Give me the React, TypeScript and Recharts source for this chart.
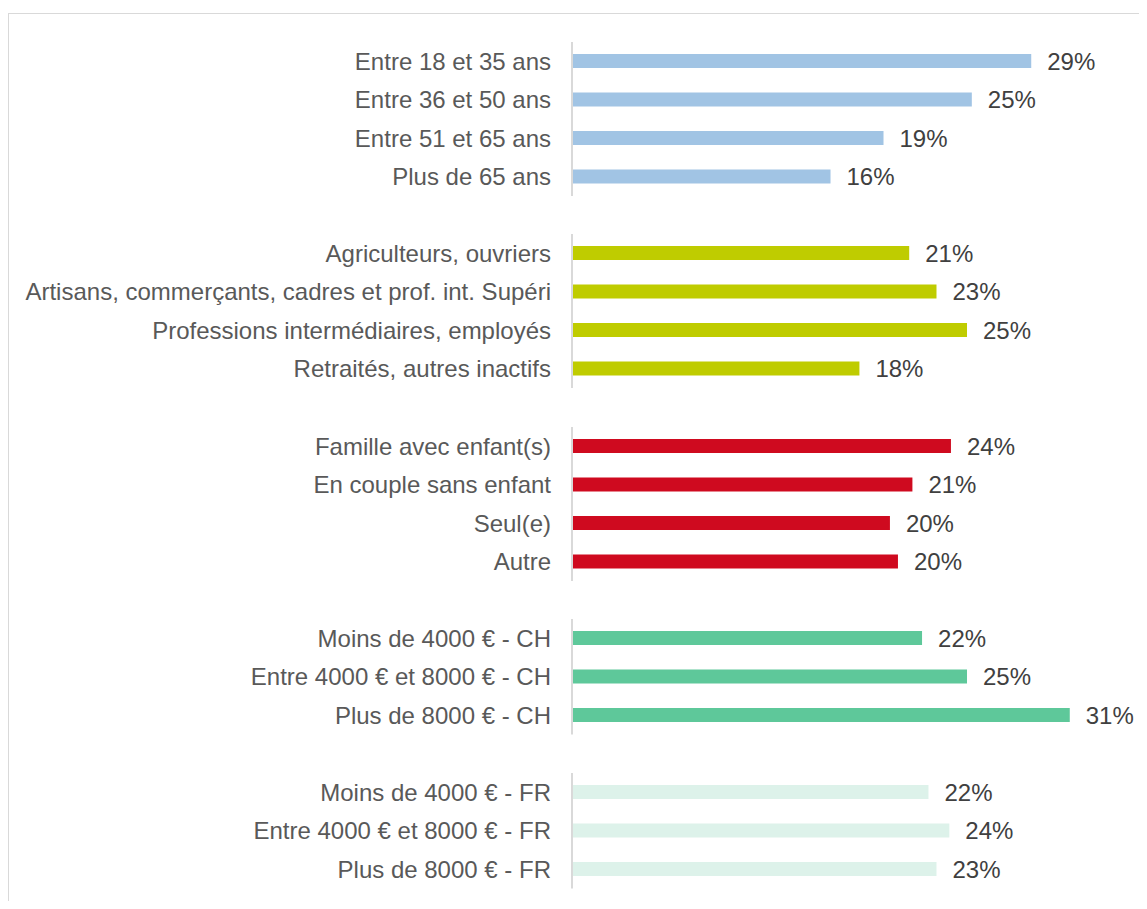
import { BarChart, Bar, XAxis, YAxis, LabelList } from "recharts";

// tranches d'âge
const ageLabels = ["Entre 18 et 35 ans", "Entre 36 et 50 ans", "Entre 51 et 65 ans", "Plus de 65 ans"];
const ageValues = [28.6, 24.9, 19.4, 16.1];

// CSP
const cspLabels = [
  "Agriculteurs, ouvriers",
  "Artisans, commerçants, cadres et prof. int. Supéri",
  "Professions intermédiaires, employés",
  "Retraités, autres inactifs",
];
const cspValues = [21.0, 22.7, 24.6, 17.9];

// foyer
const foyerLabels = ["Famille avec enfant(s)", "En couple sans enfant", "Seul(e)", "Autre"];
const foyerValues = [23.6, 21.2, 19.8, 20.3];

// revenus CH
const chLabels = ["Moins de 4000 € - CH", "Entre 4000 € et 8000 € - CH", "Plus de 8000 € - CH"];
const chValues = [21.8, 24.6, 31.0];

// revenus FR
const frLabels = ["Moins de 4000 € - FR", "Entre 4000 € et 8000 € - FR", "Plus de 8000 € - FR"];
const frValues = [22.2, 23.5, 22.7];

const groups = [
  { labels: ageLabels, values: ageValues, color: "#a1c4e4" },
  { labels: cspLabels, values: cspValues, color: "#bfcc00" },
  { labels: foyerLabels, values: foyerValues, color: "#cf0a1f" },
  { labels: chLabels, values: chValues, color: "#5ec89a" },
  { labels: frLabels, values: frValues, color: "#ddf2ea" },
];

const ROW = 38.5;
const FONT = "'Liberation Sans', Arial, sans-serif";
const FS = 24;

const Group = ({ labels, values, color }: { labels: string[]; values: number[]; color: string }) => {
  const data = labels.map((name, i) => ({ name, value: values[i] }));
  return (
    <BarChart
      layout="vertical"
      width={1125}
      height={labels.length * ROW}
      data={data}
      margin={{ top: 0, right: 0, bottom: 0, left: 0 }}
      barCategoryGap={0}
    >
      <XAxis type="number" domain={[0, 35]} hide allowDataOverflow />
      <YAxis
        type="category"
        dataKey="name"
        width={563}
        interval={0}
        tickLine={false}
        tickSize={0}
        tickMargin={21}
        axisLine={{ stroke: "#d9d9d9", strokeWidth: 2 }}
        tick={{ fill: "#595959", fontSize: FS, fontFamily: FONT }}
      />
      <Bar dataKey="value" fill={color} barSize={14} isAnimationActive={false}>
        <LabelList
          dataKey="value"
          position="right"
          offset={16}
          formatter={(v: any) => `${Math.round(Number(v))}%`}
          style={{ fill: "#404040", fontSize: FS, fontFamily: FONT }}
        />
      </Bar>
    </BarChart>
  );
};

export default function App() {
  return (
    <div style={{ width: 1139, height: 901, marginBottom: -8, overflow: "hidden" }}>
      <div
        style={{
          marginTop: 5,
          height: 910,
          borderTop: "1.5px solid #d9d9d9",
          borderLeft: "1.5px solid #d9d9d9",
          boxSizing: "border-box",
          paddingTop: 27.5,
          background: "#fff",
        }}
      >
        {groups.map((g, i) => (
          <div key={i} style={{ marginBottom: ROW }}>
            <Group labels={g.labels} values={g.values} color={g.color} />
          </div>
        ))}
      </div>
    </div>
  );
}
